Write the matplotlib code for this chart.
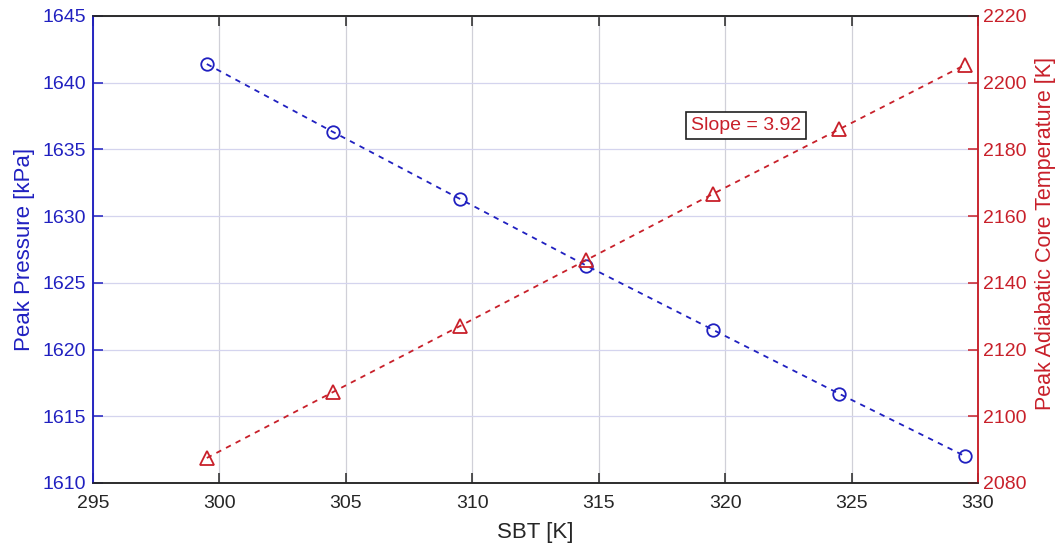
import numpy as np
import matplotlib

matplotlib.use("agg")
import matplotlib.pyplot as plt

plt.rcParams["font.family"] = ["Liberation Sans", "DejaVu Sans"]

# data
sbt = [299.5, 304.5, 309.5, 314.5, 319.5, 324.5, 329.5]
peak_pressure = [1641.4, 1636.3, 1631.3, 1626.3, 1621.5, 1616.7, 1612.0]
peak_temp = [2087.5, 2107.3, 2127.0, 2146.8, 2166.6, 2186.0, 2205.4]
slope_text = "Slope = 3.92"

blue = "#2020c0"
red = "#c8202a"
dark = "#262626"

fig = plt.figure(figsize=(10.62, 5.46), dpi=100)
ax1 = fig.add_axes([0.0876, 0.1154, 0.8333, 0.8553])
ax2 = ax1.twinx()

ax1.plot(sbt, peak_pressure, color=blue, ls=(0, (3, 3)), lw=1.3,
         marker="o", ms=9, mfc="none", mew=1.3)
ax2.plot(sbt, peak_temp, color=red, ls=(0, (3, 3)), lw=1.3,
         marker="^", ms=9.5, mfc="none", mew=1.3)

ax1.set_xlim(295, 330)
ax1.set_ylim(1610, 1645)
ax2.set_ylim(2080, 2220)
ax1.set_xticks(np.arange(295, 331, 5))
ax1.set_yticks(np.arange(1610, 1646, 5))
ax2.set_yticks(np.arange(2080, 2221, 20))

# grid: vertical gray, horizontal tinted from left axis
ax1.xaxis.grid(True, color="#d0d0d8", lw=0.9)
ax1.yaxis.grid(True, color="#d4d4ee", lw=0.9)
ax1.set_axisbelow(True)

ax1.set_xlabel("SBT [K]", fontsize=16, color=dark, labelpad=7)
ax1.set_ylabel("Peak Pressure [kPa]", fontsize=16, color=blue, labelpad=5.5)
ax2.set_ylabel("Peak Adiabatic Core Temperature [K]", fontsize=15.5, color=red)
ax2.yaxis.set_label_coords(1.064, 0.535)

ax1.tick_params(axis="x", direction="in", length=7, width=1.1, colors=dark,
                labelsize=14, top=True, pad=9)
ax1.tick_params(axis="y", direction="in", length=7, width=1.1, colors=blue,
                labelsize=14, pad=5)
ax2.tick_params(axis="y", direction="in", length=7, width=1.1, colors=red,
                labelsize=14, pad=3.5)

for ax in (ax1, ax2):
    ax.spines["top"].set_color(dark)
    ax.spines["bottom"].set_color(dark)
    ax.spines["left"].set_color(blue)
    ax.spines["right"].set_color(red)
    for s in ax.spines.values():
        s.set_linewidth(1.1)

ax1.text(0.738, 0.765, slope_text, transform=ax1.transAxes, fontsize=14,
         color=red, ha="center", va="center",
         bbox=dict(boxstyle="square,pad=0.25", fc="white", ec="#202020", lw=1.2))

fig.savefig("out.png", dpi=100)
